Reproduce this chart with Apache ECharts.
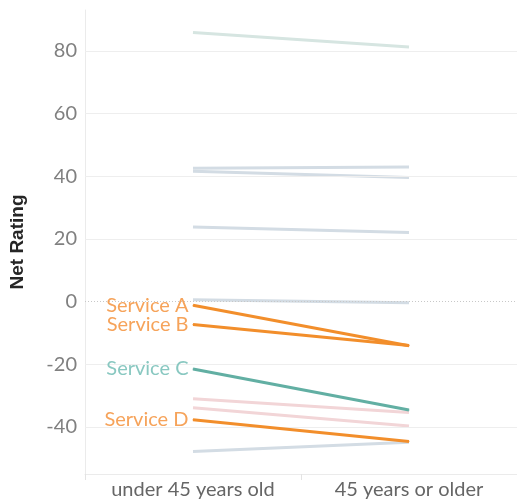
<!DOCTYPE html>
<html>
<head>
<meta charset="utf-8">
<script src="https://cdn.jsdelivr.net/npm/echarts@6/dist/echarts.min.js"></script>
<style>
  html, body { margin: 0; padding: 0; background: #fff; }
  #chart { width: 517px; height: 502px; }
</style>
</head>
<body>
<div id="chart"></div>
<script>
// Age groups on the x axis
const categories = ['under 45 years old', '45 years or older'];

// Highlighted services: [under 45, 45 or older]
const serviceA = [-1.2, -14.1];
const serviceB = [-7.3, -14.0];
const serviceC = [-21.5, -34.6];
const serviceD = [-37.7, -44.6];

// Other services, drawn muted in the background
const other1 = [85.8, 81.2];
const other2 = [42.5, 42.9];
const other3 = [41.6, 39.6];
const other4 = [23.8, 22.0];
const other5 = [0.6, -0.4];
const other6 = [-31.0, -35.4];
const other7 = [-33.9, -39.7];
const other8 = [-47.8, -44.9];

// Y axis gridline / tick values
const yTicks = [80, 60, 40, 20, 0, -20, -40];

const FONT = 'Lato, "Open Sans", sans-serif';
const ORANGE = '#F28E2B';
const ORANGE_LABEL = '#F6A35A';
const TEAL = '#62AFA3';
const TEAL_LABEL = '#89C8C1';
const GREY = '#D3DCE4';
const GREEN_GREY = '#D6E5E1';
const PINK = '#F2D5D7';

function mutedLine(data, color) {
  return {
    type: 'line', data: data, symbol: 'none', silent: true, z: 2,
    lineStyle: { color: color, width: 3 }
  };
}

// Highlighted line with its name written to the left of the first point
function serviceLine(name, data, color, labelColor) {
  return {
    type: 'line', name: name, z: 5,
    symbol: 'circle', symbolSize: 1, showSymbol: true,
    itemStyle: { color: color },
    lineStyle: { color: color, width: 3 },
    data: data.map(function (v, i) {
      return i === 0 ? {
        value: v,
        label: {
          show: true, position: 'left', distance: 4,
          formatter: name, color: labelColor,
          fontSize: 20, fontFamily: FONT
        }
      } : v;
    })
  };
}

// Gridlines: solid light lines, dotted at zero
const gridSeries = {
  type: 'line', data: [], silent: true, z: 1,
  markLine: {
    silent: true, symbol: 'none', label: { show: false },
    data: yTicks.map(function (t) {
      return {
        yAxis: t,
        lineStyle: t === 0
          ? { color: '#C8C8C8', type: [1, 2], width: 1 }
          : { color: '#EEEEEE', type: 'solid', width: 1 }
      };
    })
  }
};

const chart = echarts.init(document.getElementById('chart'));
chart.setOption({
  animation: false,
  backgroundColor: '#fff',
  grid: { left: 83, right: -5, top: 10, bottom: 28 },
  xAxis: {
    type: 'category', data: categories, boundaryGap: true,
    axisLine: { show: true, onZero: false, lineStyle: { color: '#EBEBEB' } },
    axisTick: { show: true, length: 6, lineStyle: { color: '#E3E3E3' } },
    axisLabel: { color: '#666', fontSize: 20, fontFamily: FONT, margin: 6 },
    splitLine: { show: false }
  },
  yAxis: {
    type: 'value', min: -55, max: 93,
    name: 'Net Rating', nameLocation: 'middle', nameGap: 58, nameRotate: 90,
    nameTextStyle: { color: '#262626', fontSize: 19, fontWeight: 'bold', fontFamily: '"Liberation Sans", Arial, sans-serif' },
    axisLine: { show: true, lineStyle: { color: '#EBEBEB' } },
    axisTick: { show: false },
    splitLine: { show: false },
    axisLabel: {
      customValues: yTicks,
      color: '#808080', fontSize: 20, fontFamily: FONT, margin: 8
    }
  },
  series: [
    gridSeries,
    mutedLine(other1, GREEN_GREY),
    mutedLine(other2, GREY),
    mutedLine(other3, GREY),
    mutedLine(other4, GREY),
    mutedLine(other5, GREY),
    mutedLine(other6, PINK),
    mutedLine(other7, PINK),
    mutedLine(other8, GREY),
    serviceLine('Service A', serviceA, ORANGE, ORANGE_LABEL),
    serviceLine('Service B', serviceB, ORANGE, ORANGE_LABEL),
    serviceLine('Service C', serviceC, TEAL, TEAL_LABEL),
    serviceLine('Service D', serviceD, ORANGE, ORANGE_LABEL)
  ]
});
</script>
</body>
</html>
